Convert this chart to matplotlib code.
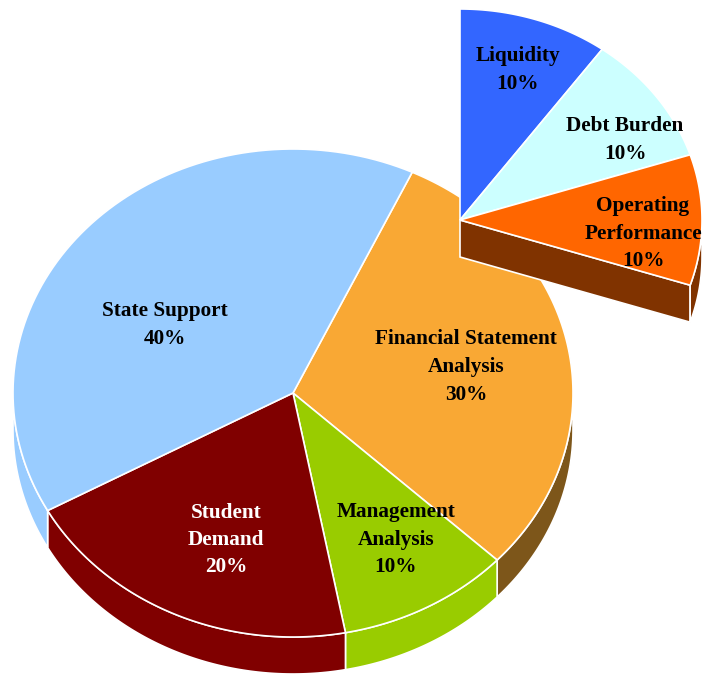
import numpy as np
import matplotlib
matplotlib.use('Agg')
import matplotlib.pyplot as plt
from matplotlib.patches import Polygon

# main pie, clockwise from the top-right boundary
main_labels = ['Financial Statement\nAnalysis', 'Management\nAnalysis', 'Student\nDemand', 'State Support']
main_shares = [30, 10, 20, 40]
main_colors = ['#F9A834', '#99CC00', '#800000', '#99CCFF']
main_side_colors = ['#7D561A', '#99CC00', '#800000', '#99CCFF']
main_text_colors = ['black', 'black', 'white', 'black']

# exploded breakdown, clockwise from 12 o'clock
sub_labels = ['Liquidity', 'Debt Burden', 'Operating\nPerformance']
sub_shares = [10, 10, 10]
sub_colors = ['#3366FF', '#CCFFFF', '#FF6600']
sub_side_color = '#803300'

# geometry in pixels (y grows downward)
W, H = 702, 675
MAIN_C, MAIN_R = (293, 393), (280, 244)
SUB_C, SUB_R = (460, 220), (242, 211)
DEPTH = 37
MAIN_START, SUB_START = 64.8, 90.0

main_label_pos = [(466, 367), (396, 540), (226, 540), (165, 325)]
sub_label_pos = [(518, 70), (625, 140), (643, 234)]


def rim(c, r, a1, a2, n=90):
    t = np.radians(np.linspace(a1, a2, n))
    return np.column_stack([c[0] + r[0] * np.cos(t), c[1] - r[1] * np.sin(t)])


def wedge(c, r, a1, a2):
    return np.vstack([[c], rim(c, r, a1, a2)])


def front_ranges(lo, hi):
    out = []
    for k in (-360, 0, 360):
        a, b = max(lo, -180 + k), min(hi, k)
        if b > a:
            out.append((a, b))
    return out


def side(c, r, a1, a2):
    top = rim(c, r, a1, a2)
    bot = top[::-1] + [0, DEPTH]
    return np.vstack([top, bot])


fig = plt.figure(figsize=(W / 100, H / 100), dpi=100)
ax = fig.add_axes([0, 0, 1, 1])
ax.set_xlim(0, W)
ax.set_ylim(H, 0)
ax.axis('off')

font = dict(family='Liberation Serif', fontweight='bold', fontsize=15.3,
            ha='center', va='center', linespacing=1.5)

# main pie: angles per slice
angles = []
a = MAIN_START
for s in main_shares:
    angles.append((a - s * 3.6, a))
    a -= s * 3.6

# sides of the main pie
for (lo, hi), col in zip(angles, main_side_colors):
    for a1, a2 in front_ranges(lo, hi):
        ax.add_patch(Polygon(side(MAIN_C, MAIN_R, a1, a2), closed=True,
                             fc=col, ec='white', lw=1.2, zorder=1))

# top faces of the main pie
for (lo, hi), col in zip(angles, main_colors):
    ax.add_patch(Polygon(wedge(MAIN_C, MAIN_R, hi, lo), closed=True,
                         fc=col, ec='white', lw=1.2, zorder=2))

# the gap left where the breakdown was lifted out
sub_total = sum(sub_shares) * 3.6
gap_c = (SUB_C[0], SUB_C[1] + DEPTH)
ax.add_patch(Polygon(wedge(gap_c, SUB_R, SUB_START, SUB_START - sub_total), closed=True,
                     fc='white', ec='none', zorder=3))

# exploded wedge: sides
end = SUB_START - sub_total
p_end = rim(SUB_C, SUB_R, end, end, n=1)[0]
face = np.array([SUB_C, p_end, p_end + [0, DEPTH], [SUB_C[0], SUB_C[1] + DEPTH]])
ax.add_patch(Polygon(face, closed=True, fc=sub_side_color, ec='white', lw=1.2, zorder=4))
for a1, a2 in front_ranges(end, SUB_START):
    ax.add_patch(Polygon(side(SUB_C, SUB_R, a1, a2), closed=True,
                         fc=sub_side_color, ec='white', lw=1.2, zorder=4))

# exploded wedge: top faces
a = SUB_START
for s, col in zip(sub_shares, sub_colors):
    ax.add_patch(Polygon(wedge(SUB_C, SUB_R, a, a - s * 3.6), closed=True,
                         fc=col, ec='white', lw=1.2, zorder=5))
    a -= s * 3.6

# labels
for lab, s, pos, tc in zip(main_labels, main_shares, main_label_pos, main_text_colors):
    ax.text(pos[0], pos[1], f'{lab}\n{s}%', color=tc, zorder=6, **font)
for lab, s, pos in zip(sub_labels, sub_shares, sub_label_pos):
    ax.text(pos[0], pos[1], f'{lab}\n{s}%', color='black', zorder=6, **font)

fig.savefig('out.png', dpi=100)
